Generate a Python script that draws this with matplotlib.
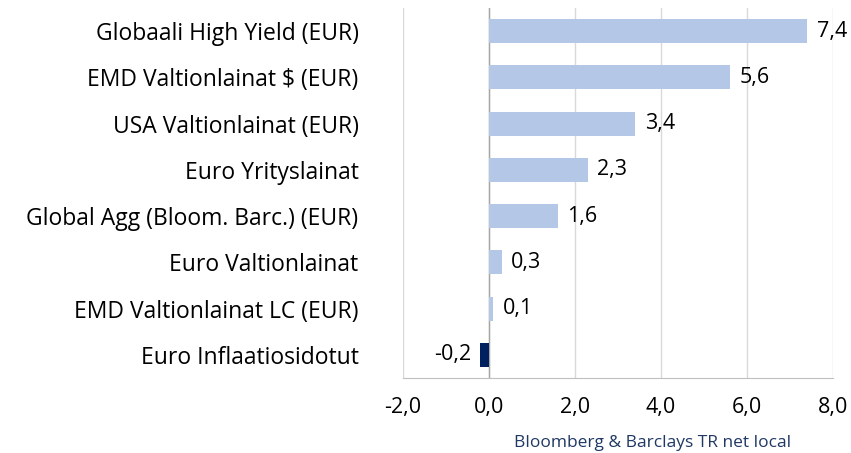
import matplotlib.pyplot as plt

categories = ["Globaali High Yield (EUR)", "EMD Valtionlainat $ (EUR)", "USA Valtionlainat (EUR)",
              "Euro Yrityslainat", "Global Agg (Bloom. Barc.) (EUR)", "Euro Valtionlainat",
              "EMD Valtionlainat LC (EUR)", "Euro Inflaatiosidotut"]
values = [7.4, 5.6, 3.4, 2.3, 1.6, 0.3, 0.1, -0.2]
xticks = [-2, 0, 2, 4, 6, 8]
source = "Bloomberg & Barclays TR net local"

plt.rcParams['font.family'] = ['Open Sans', 'DejaVu Sans']

fig = plt.figure(figsize=(8.51, 4.53), dpi=100)
ax = fig.add_axes([403/851, 1-378/453, 430/851, 370/453])

ypos = list(range(len(categories)))
colors = ["#B4C7E7" if v >= 0 else "#002060" for v in values]
ax.barh(ypos, values, height=0.52, color=colors, zorder=3)
for y, v in zip(ypos, values):
    lab = f"{v:.1f}".replace(".", ",")
    if v >= 0:
        ax.text(v + 0.22, y, lab, va="center", ha="left", fontsize=15.5, color="#000000", zorder=4)
    else:
        ax.text(v - 0.22, y, lab, va="center", ha="right", fontsize=15.5, color="#000000", zorder=4)

ax.set_xlim(-2, 8)
ax.set_ylim(len(categories) - 0.5, -0.5)
ax.set_xticks(xticks)
ax.set_xticklabels([f"{t:.1f}".replace(".", ",") for t in xticks], fontsize=15.5)
ax.set_yticks(ypos)
ax.set_yticklabels(categories, fontsize=16.5)
ax.tick_params(axis="both", length=0)
ax.tick_params(axis="x", pad=14)
ax.tick_params(axis="y", pad=32)
ax.grid(axis="x", color="#D9D9D9", linewidth=1, zorder=0)
for s in ["top", "right", "left"]:
    ax.spines[s].set_visible(False)
ax.spines["bottom"].set_color("#BFBFBF")
ax.axvline(0, color="#A6A6A6", linewidth=1, zorder=2)

fig.text(653/851, 1-443/453, source, ha="center", va="center", fontsize=12.5, color="#1F3864")

fig.savefig("out.png", dpi=100)
